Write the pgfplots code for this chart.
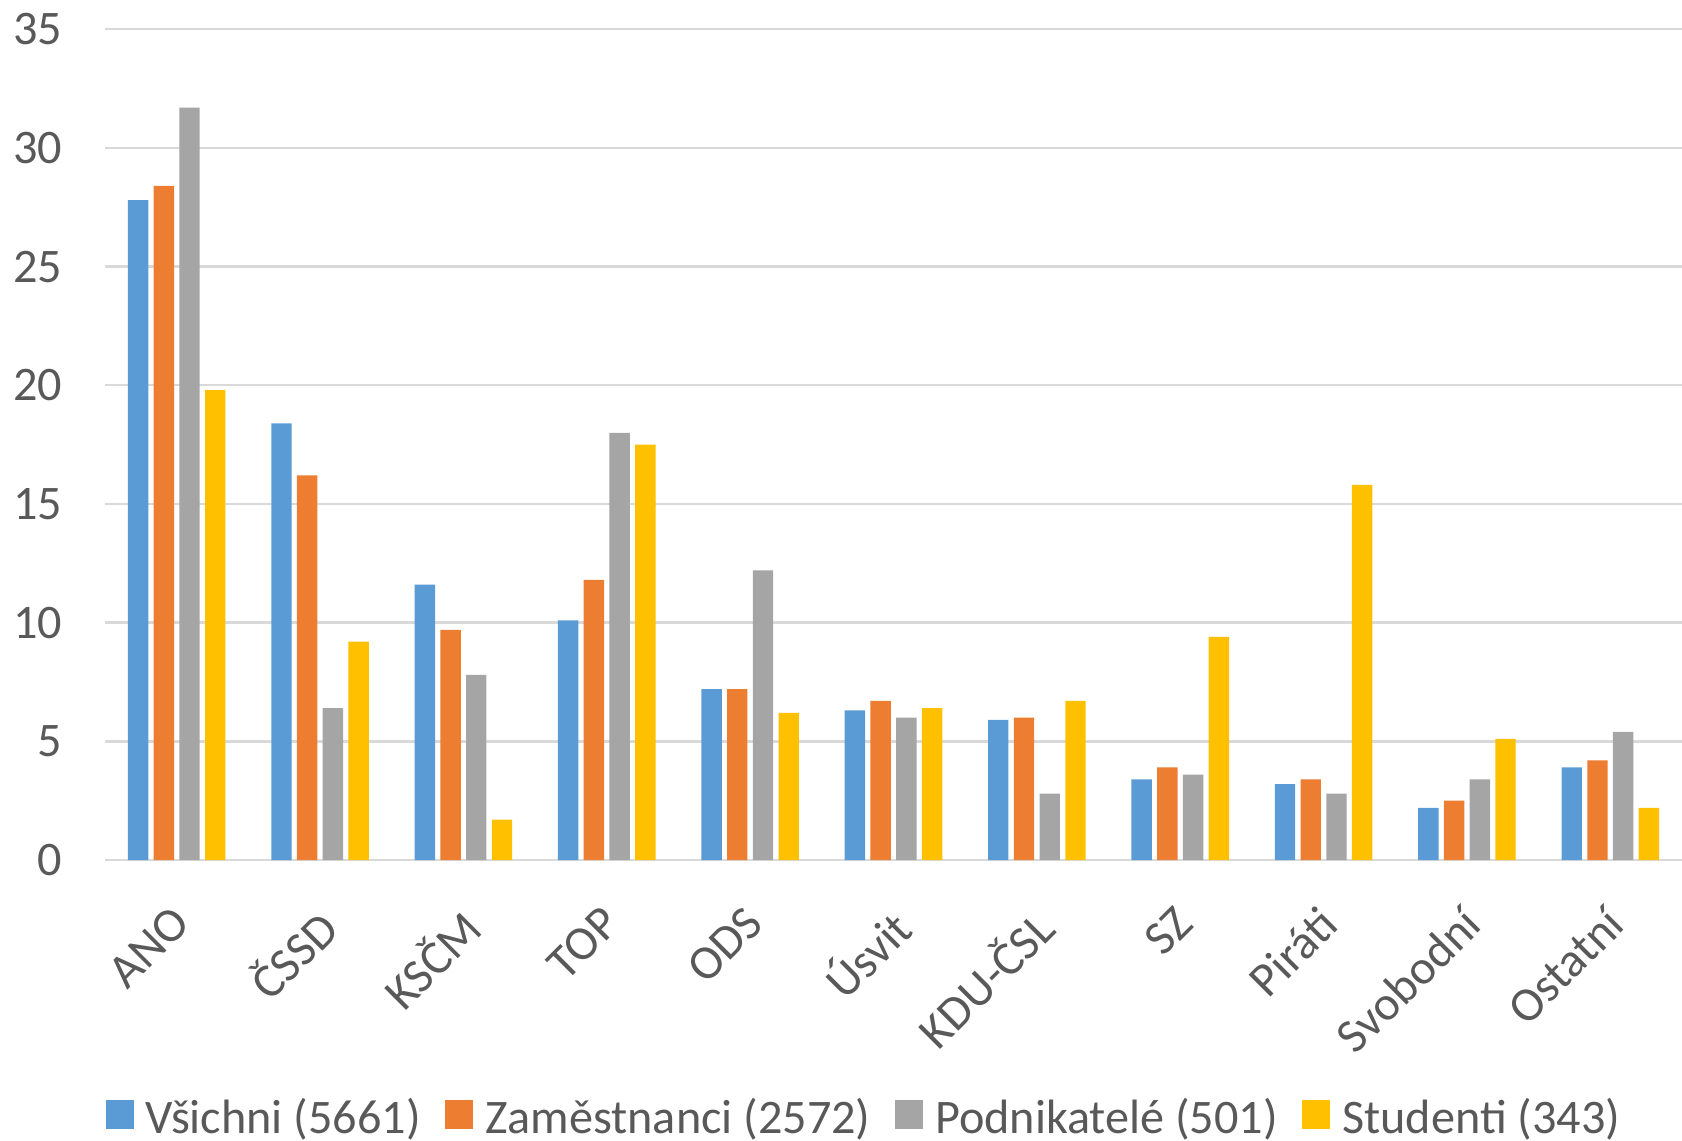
\documentclass[border=0pt]{standalone}
\usepackage{fontspec}
\setmainfont{Carlito}
\usepackage{pgfplots}
\pgfplotsset{compat=1.18}
\definecolor{cblue}{HTML}{5B9BD5}
\definecolor{corange}{HTML}{ED7D31}
\definecolor{cgray}{HTML}{A5A5A5}
\definecolor{cyellow}{HTML}{FFC000}
\definecolor{gridgray}{HTML}{D9D9D9}
\definecolor{txt}{HTML}{595959}
\begin{document}
\begin{tikzpicture}
\useasboundingbox (0,0) rectangle (420.5pt,285pt);
\begin{axis}[
  at={(26.25pt,70pt)}, anchor=south west,
  scale only axis, width=394.25pt, height=207.7pt,
  ybar=1.33pt, bar width=5.1pt,
  xmin=-0.5, xmax=10.5, ymin=0, ymax=35,
  ytick={0,5,...,35},
  xtick={0,...,10},
  xticklabels={ANO, ČSSD, KSČM, TOP, ODS, Úsvit, KDU-ČSL, SZ, Piráti, Svobodní, Ostatní},
  axis line style={draw=none},
  tick style={draw=none},
  ymajorgrids,
  major grid style={color=gridgray, line width=0.6pt},
  /pgf/number format/assume math mode=true,
  ticklabel style={font=\fontsize{12.05}{14}\selectfont, text=txt},
  yticklabel style={anchor=east, inner sep=0pt, xshift=-10.45pt},
  xticklabel style={xshift=-1.7pt, yshift=-6.5pt, rotate=45, anchor=north east, inner sep=0pt},
  legend style={at={(0,-0.311)}, anchor=west, draw=none, inner sep=0pt,
    font=\fontsize{12.05}{14}\selectfont, text=txt,
    legend columns=4,
    /tikz/every odd column/.append style={column sep=1pt},
    /tikz/every even column/.append style={column sep=4.1pt}},
  legend image code/.code={\fill[#1] (0pt,-2.6pt) rectangle (7pt,4.6pt);},
]
\addplot[fill=cblue, draw=none] coordinates {(0,27.8) (1,18.4) (2,11.6) (3,10.1) (4,7.2) (5,6.3) (6,5.9) (7,3.4) (8,3.2) (9,2.2) (10,3.9)};
\addplot[fill=corange, draw=none] coordinates {(0,28.4) (1,16.2) (2,9.7) (3,11.8) (4,7.2) (5,6.7) (6,6.0) (7,3.9) (8,3.4) (9,2.5) (10,4.2)};
\addplot[fill=cgray, draw=none] coordinates {(0,31.7) (1,6.4) (2,7.8) (3,18.0) (4,12.2) (5,6.0) (6,2.8) (7,3.6) (8,2.8) (9,3.4) (10,5.4)};
\addplot[fill=cyellow, draw=none] coordinates {(0,19.8) (1,9.2) (2,1.7) (3,17.5) (4,6.2) (5,6.4) (6,6.7) (7,9.4) (8,15.8) (9,5.1) (10,2.2)};
\legend{Všichni (5661), Zaměstnanci (2572), Podnikatelé (501), Studenti (343)}
\end{axis}
\end{tikzpicture}
\end{document}
